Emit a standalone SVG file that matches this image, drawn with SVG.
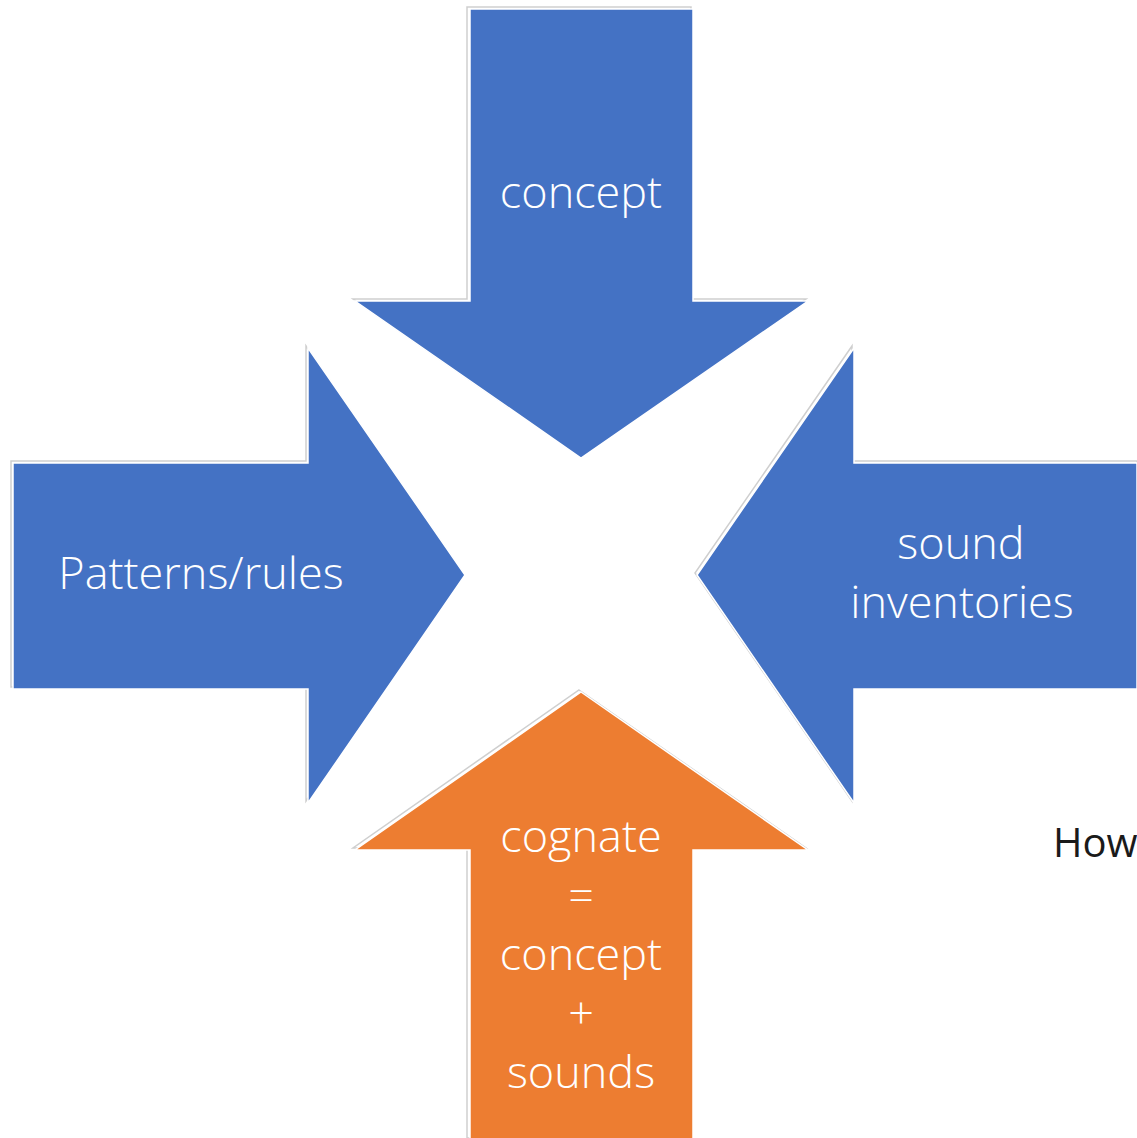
<svg xmlns="http://www.w3.org/2000/svg" width="1137" height="1138" viewBox="0 0 1137 1138">
  <style>
    .blue { fill: #4472C4; stroke: #ffffff; stroke-width: 1.5; }
    .orange { fill: #ED7D31; stroke: #ffffff; stroke-width: 1.5; }
    .shade { fill: none; stroke: #cfcfcf; stroke-width: 1.5; }
    .lbl { font-family: "Open Sans", "Noto Sans", sans-serif; font-weight: 300; font-size: 45px; fill: #ffffff; text-anchor: middle; }
    .note { font-family: "Open Sans", "Noto Sans", sans-serif; font-size: 40px; fill: #1a1a1a; }
  </style>
  <rect width="1137" height="1138" fill="#ffffff"/>

  <g id="concept-arrow">
    <polygon class="shade" points="467,7 691,7 691,299 806,299 579,456 353,299 467,299"/>
    <polygon class="blue" points="470,9 693,9 693,301 808,301 581,458 355,301 470,301"/>
    <text class="lbl" x="581" y="208">concept</text>
  </g>

  <g id="patterns-arrow">
    <polygon class="shade" points="11,461 306,461 306,346 463,573 306,801 306,687 11,687"/>
    <polygon class="blue" points="13,463 308,463 308,348 465,575 308,803 308,689 13,689"/>
    <text class="lbl" x="201" y="589">Patterns/rules</text>
  </g>

  <g id="sound-arrow">
    <polygon class="shade" points="852,461 1137,461 1137,687 852,687 852,801 695,573 852,346"/>
    <polygon class="blue" points="854,463 1137,463 1137,689 854,689 854,803 697,575 854,348"/>
    <text class="lbl" x="961" y="559">sound</text>
    <text class="lbl" x="962" y="618">inventories</text>
  </g>

  <g id="cognate-arrow">
    <polygon class="shade" points="579,690 806,848 691,848 691,1138 467,1138 467,848 353,848"/>
    <polygon class="orange" points="581,692 808,850 693,850 693,1140 470,1140 470,850 355,850"/>
    <text class="lbl" x="581" y="852">cognate</text>
    <text class="lbl" x="581" y="911">=</text>
    <text class="lbl" x="581" y="970">concept</text>
    <text class="lbl" x="581" y="1029">+</text>
    <text class="lbl" x="581" y="1088">sounds</text>
  </g>

  <g id="connectors"></g>

  <text class="note" x="1053" y="857">How</text>
</svg>
